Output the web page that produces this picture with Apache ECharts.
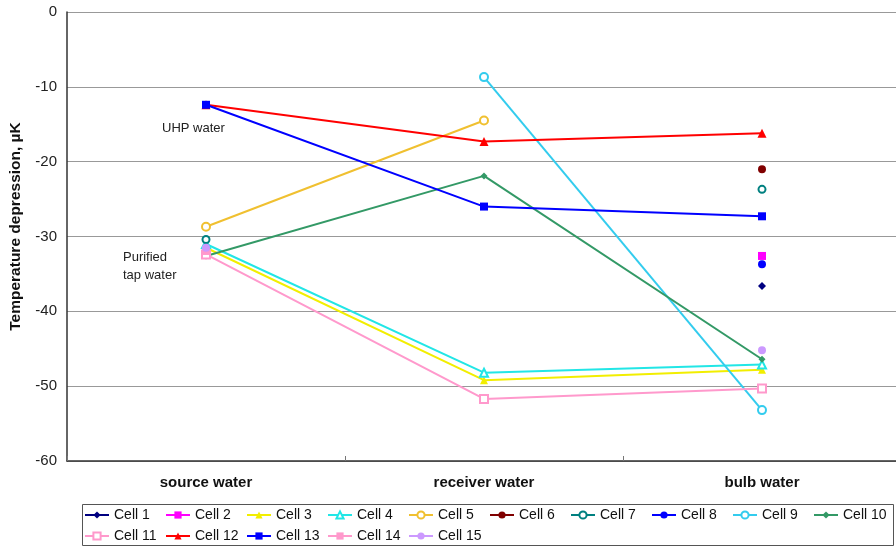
<!DOCTYPE html>
<html>
<head>
<meta charset="utf-8">
<script src="https://cdn.jsdelivr.net/npm/echarts@6/dist/echarts.min.js"></script>
<style>
  html, body { margin: 0; padding: 0; background: #fff; }
  #chart { width: 896px; height: 548px; }
</style>
</head>
<body>
<div id="chart"></div>
<script>
// Sample stages along the x axis
const categories = ['source water', 'receiver water', 'bulb water'];

// Temperature depression (µK) per cell at each stage; null = not measured
const cell1  = [null, null, -36.6];
const cell2  = [null, null, -32.6];
const cell3  = [-31.5, -49.2, -47.8];
const cell4  = [-31.0, -48.2, -47.1];
const cell5  = [-28.7, -14.5, null];
const cell6  = [null, null, -21.0];
const cell7  = [-30.4, null, -23.7];
const cell8  = [null, null, -33.7];
const cell9  = [null, -8.7, -53.2];
const cell10 = [-32.6, -21.9, -46.4];
const cell11 = [-32.4, -51.7, -50.3];
const cell12 = [-12.4, -17.3, -16.2];
const cell13 = [-12.4, -26.0, -27.3];
const cell14 = [-32.0, null, null];
const cell15 = [-31.5, null, -45.2];

const yTicks = { min: -60, max: 0, step: 10 };

const seriesDefs = [
  { name: 'Cell 1',  data: cell1,  color: '#000080', symbol: 'diamond',       size: 8 },
  { name: 'Cell 2',  data: cell2,  color: '#FF00FF', symbol: 'rect',          size: 8 },
  { name: 'Cell 3',  data: cell3,  color: '#F2EE00', symbol: 'triangle',      size: 8 },
  { name: 'Cell 4',  data: cell4,  color: '#22E6E6', symbol: 'emptyTriangle', size: 8 },
  { name: 'Cell 5',  data: cell5,  color: '#F0C030', symbol: 'emptyCircle',   size: 8 },
  { name: 'Cell 6',  data: cell6,  color: '#800000', symbol: 'circle',        size: 8 },
  { name: 'Cell 7',  data: cell7,  color: '#008080', symbol: 'emptyCircle',   size: 7 },
  { name: 'Cell 8',  data: cell8,  color: '#0000FF', symbol: 'circle',        size: 8 },
  { name: 'Cell 9',  data: cell9,  color: '#33CCEE', symbol: 'emptyCircle',   size: 8 },
  { name: 'Cell 10', data: cell10, color: '#339966', symbol: 'diamond',       size: 7 },
  { name: 'Cell 11', data: cell11, color: '#FF99CC', symbol: 'emptyRect',     size: 8 },
  { name: 'Cell 12', data: cell12, color: '#FF0000', symbol: 'triangle',      size: 9 },
  { name: 'Cell 13', data: cell13, color: '#0000FF', symbol: 'rect',          size: 8 },
  { name: 'Cell 14', data: cell14, color: '#FF99CC', symbol: 'rect',          size: 7 },
  { name: 'Cell 15', data: cell15, color: '#CC99FF', symbol: 'circle',        size: 8 }
];

const FONT = 'Arial, Liberation Sans, sans-serif';

// Legend laid out as 10 fixed-width columns, two rows (Cell n above Cell n+10)
const LEG_LEFT = 84, LEG_COL = 81, LEG_TOP = 508;
const legends = [];
for (let c = 0; c < 10; c++) {
  const names = [seriesDefs[c].name];
  if (seriesDefs[c + 10]) names.push(seriesDefs[c + 10].name);
  legends.push({
    orient: 'vertical',
    left: LEG_LEFT + c * LEG_COL, top: LEG_TOP,
    padding: 0,
    itemWidth: 24, itemHeight: 9, itemGap: 7,
    textStyle: { color: '#111', fontFamily: FONT, fontSize: 14 },
    data: names
  });
}

const chart = echarts.init(document.getElementById('chart'), null, { renderer: 'canvas' });

const option = {
  animation: false,
  backgroundColor: '#fff',
  grid: { left: 67, top: 12, width: 834, height: 449, containLabel: false, outerBoundsMode: 'none' },
  xAxis: {
    type: 'category',
    data: categories,
    boundaryGap: true,
    axisLine: { onZero: false, lineStyle: { color: '#333', width: 1.5 } },
    axisTick: { show: true, inside: true, length: 5, lineStyle: { color: '#777' } },
    axisLabel: { color: '#111', fontFamily: FONT, fontSize: 15, fontWeight: 'bold', margin: 14 },
    splitLine: { show: false }
  },
  yAxis: {
    type: 'value',
    min: yTicks.min, max: yTicks.max, interval: yTicks.step,
    name: 'Temperature depression, µK',
    nameLocation: 'middle',
    nameGap: 43,
    nameTextStyle: {
      color: '#111', fontFamily: FONT, fontSize: 15.5, fontWeight: 'bold',
      padding: [0, 0, 0, 20]
    },
    axisLine: { show: true, lineStyle: { color: '#333', width: 1.5 } },
    axisTick: { show: false },
    axisLabel: { color: '#222', fontFamily: FONT, fontSize: 15, margin: 10 },
    splitLine: { show: true, lineStyle: { color: '#999', width: 1 } }
  },
  legend: legends,
  graphic: [
    {
      type: 'rect', silent: true, z: -1,
      shape: { x: 82.5, y: 504.5, width: 811, height: 41 },
      style: { fill: 'none', stroke: '#555', lineWidth: 1 }
    },
    {
      type: 'text', left: 162, top: 122,
      style: { text: 'UHP water', fill: '#222', font: '13px ' + FONT }
    },
    {
      type: 'text', left: 123, top: 248,
      style: { text: 'Purified\ntap water', fill: '#222', font: '13px ' + FONT, lineHeight: 18 }
    }
  ],
  series: seriesDefs.map(s => ({
    name: s.name,
    type: 'line',
    data: s.data,
    connectNulls: false,
    symbol: s.symbol,
    symbolSize: s.size,
    showSymbol: true,
    showAllSymbol: true,
    lineStyle: { color: s.color, width: 2 },
    itemStyle: { color: s.color, borderWidth: s.symbol.startsWith('empty') ? 1.8 : 1 },
    emphasis: { disabled: true }
  }))
};

chart.setOption(option);
</script>
</body>
</html>
